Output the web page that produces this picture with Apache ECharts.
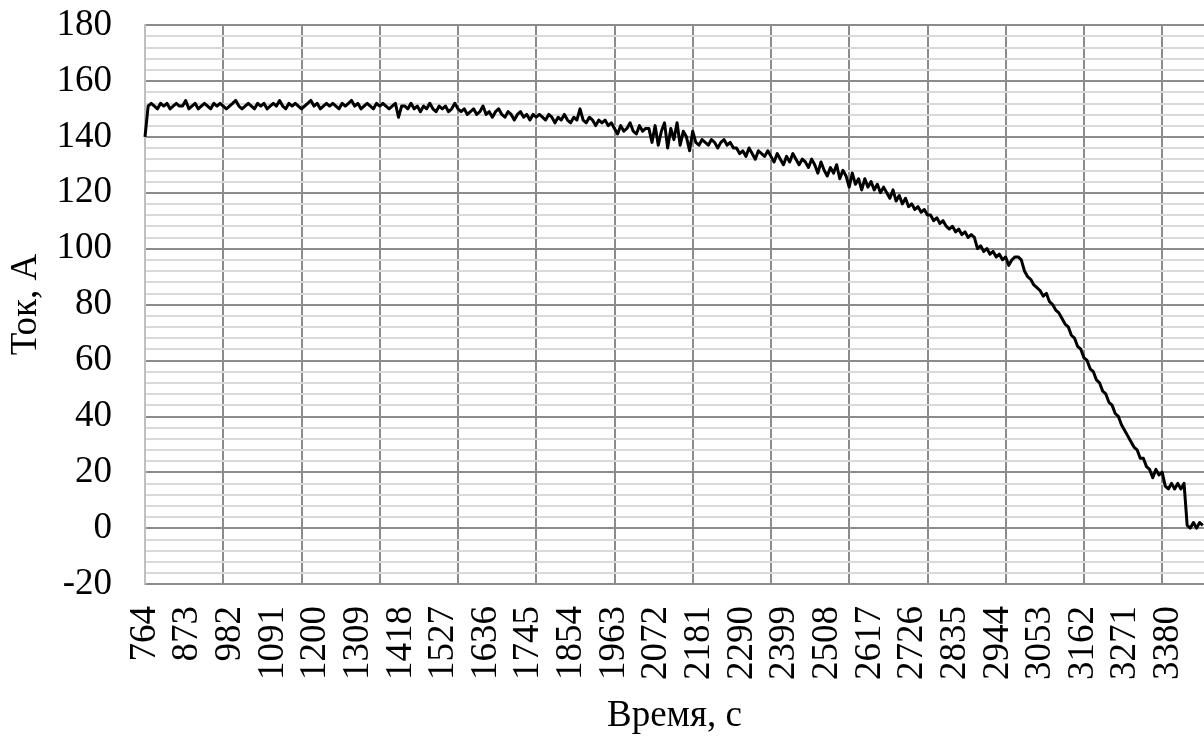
<!DOCTYPE html>
<html>
<head>
<meta charset="utf-8">
<script src="https://cdn.jsdelivr.net/npm/echarts@6/dist/echarts.min.js"></script>
<style>
  html, body { margin: 0; padding: 0; background: #fff; }
  #main { width: 1204px; height: 740px; }
</style>
</head>
<body>
<div id="main"></div>
<script>
// время, с (категории оси X — по секундам)
const timeStart = 764;
const timeEnd = 3471;
const labelEvery = 109;   // подписи каждые 109 с
const gridEvery = 200;    // вертикальная сетка каждые 200 с

const sampleStart = 764;
const sampleStep = 8;

const currentFlat = [
  140,
  151,152,151,150,152,151,152,150,151,152,151,151,153,150,151,152,150,151,152,151,
  150,152,151,152,151,150,151,152,153,151,150,151,152,151,150,152,151,152,150,151,
  152,151,153,151,150,152,151,152,151,150,151,152,153,151,152,150,151,152,151,152,
  151,150,152,151,152,153,151,152,150,151,152,151,150,152,151,152,151,150,151,152,
  147,151
];
const currentSlow = [
  151,150,152,150,151,149,151,150,152,150,149,151,150,151,149,150,152,150,149,
  150,148,149,150,148,149,151,148,149,147,149,150,148,147,149,148,146,148,149,147,148,146,148,147,148,
  147,146,148,147,145,147,146,148,146,145,147,146,150,146,145,147,146,144,146,145,146,144,145,
  143,141,144,142,143,145,142,141,144,142,143,
  143,138,144,137,142,145,136,143,139,145,137,142,140
];
const currentMid = [
  135,142,138,137,139,138,137,139,138,136,138,139,137,138,136,
  136,134,135,133,136,134,132,135,134,133,135,
  133,131,134,132,130,133,131,134,132,130,132,131,129,132,
  130,127,131,128,126,129,127,130,125,128,126,
  122,127,123,125,121,
  125,122,124,121,123,120,122,
  120,118,121,117,119,116,118,115,
  116,114,115,113,114,112,
  112,110,111,109,110,108,107,108,106,107,105,106,104,105,104,
  100,101,99,100,98,99,97,98,96,97,94,96,97,97,96
];
const currentFall = [
  92,90,89,87,86,85,83,84,81,80,78,77,75,73,72,69,68,65,64,61,
  60,57,56,53,52,49,48,45,44,41,40,37,35,33,31,29,28,25,25,22,
  21,18,21,19,20,15,14,16,14,16,14,16,
  1,0,2,0,2,1
];

const currentValues = currentFlat.concat(currentSlow, currentMid, currentFall);

const categories = [];
for (let t = timeStart; t <= timeEnd; t++) categories.push(String(t));

const seriesData = currentValues.map((v, i) => [String(sampleStart + i * sampleStep), v]);

const fontFamily = '"Times New Roman", "Liberation Serif", serif';
const chart = echarts.init(document.getElementById('main'));

chart.setOption({
  backgroundColor: '#fff',
  animation: false,
  grid: { left: 143, right: 0, top: 25, bottom: 152, containLabel: false },
  xAxis: {
    type: 'category',
    data: categories,
    boundaryGap: false,
    name: 'Время, с',
    nameLocation: 'middle',
    nameGap: 114,
    nameTextStyle: { fontFamily: fontFamily, fontSize: 37, color: '#000' },
    axisLine: { onZero: false, lineStyle: { color: '#8c8c8c', width: 2 } },
    axisTick: { show: false },
    axisLabel: {
      interval: labelEvery - 1,
      rotate: 90,
      margin: 22,
      fontFamily: fontFamily,
      fontSize: 37,
      color: '#000'
    },
    splitLine: {
      show: true,
      interval: gridEvery - 1,
      lineStyle: { color: '#8c8c8c', width: 2 }
    }
  },
  yAxis: {
    type: 'value',
    z: 1,
    min: -20,
    max: 180,
    interval: 20,
    name: 'Ток, А',
    nameLocation: 'middle',
    nameGap: 100,
    nameTextStyle: { fontFamily: fontFamily, fontSize: 37, color: '#000' },
    axisLine: { show: true, lineStyle: { color: '#bfbfbf', width: 2 } },
    axisTick: { show: false },
    axisLabel: { margin: 33, fontFamily: fontFamily, fontSize: 37, color: '#000' },
    splitLine: { show: true, lineStyle: { color: '#8c8c8c', width: 2 } },
    minorTick: { show: false, splitNumber: 5 },
    minorSplitLine: { show: true, lineStyle: { color: '#d9d9d9', width: 2 } }
  },
  series: [{
    type: 'line',
    data: seriesData,
    showSymbol: false,
    lineStyle: { color: '#000', width: 3, join: 'round' },
    z: 5
  }]
});
</script>
</body>
</html>
